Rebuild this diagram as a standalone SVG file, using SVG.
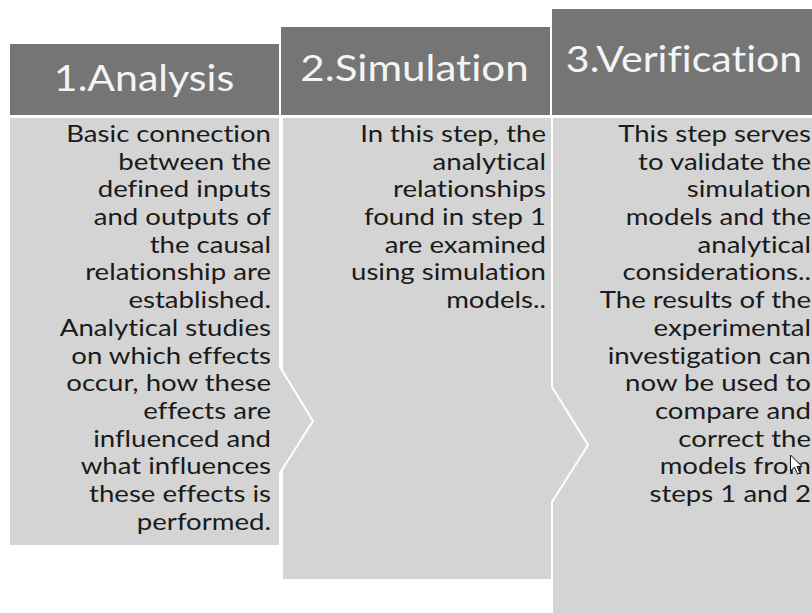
<svg xmlns="http://www.w3.org/2000/svg" width="812" height="613" viewBox="0 0 812 613">
  <style>
    .head { fill: #757575; }
    .panel { fill: #d4d4d4; stroke: #ffffff; stroke-width: 2; stroke-linejoin: miter; }
    text { font-family: Lato, "Open Sans", sans-serif; font-variant-ligatures: none; font-feature-settings: "liga" 0, "dlig" 0, "clig" 0; }
    .title { font-size: 36px; fill: #f4f4f4; text-anchor: middle; }
    .body { font-size: 23px; fill: #1a1a1a; text-anchor: end; }
  </style>
  <rect width="812" height="613" fill="#ffffff"/>

  <!-- Step 3: verification (drawn first, sits under the step 2 chevron) -->
  <g id="step3">
    <rect class="head" x="552" y="9" width="270" height="106"/>
    <rect class="panel" x="552" y="117" width="270" height="500"/>
    <text class="title" transform="translate(684 72) scale(1.14 1)" x="0" y="0">3.Verification</text>
    <g transform="translate(811 0) scale(1.2 1)">
      <text class="body" x="0" y="142">This step serves</text>
      <text class="body" x="0" y="169.7">to validate the</text>
      <text class="body" x="0" y="197.4">simulation</text>
      <text class="body" x="0" y="225.1">models and the</text>
      <text class="body" x="0" y="252.8">analytical</text>
      <text class="body" x="0" y="280.5">considerations..</text>
      <text class="body" x="0" y="308.2">The results of the</text>
      <text class="body" x="0" y="335.9">experimental</text>
      <text class="body" x="0" y="363.6">investigation can</text>
      <text class="body" x="0" y="391.3">now be used to</text>
      <text class="body" x="0" y="419">compare and</text>
      <text class="body" x="0" y="446.7">correct the</text>
      <text class="body" x="0" y="474.4">models from</text>
      <text class="body" x="0" y="502.1">steps 1 and 2</text>
    </g>
  </g>

  <!-- Step 2: simulation -->
  <g id="step2">
    <rect class="head" x="281" y="27" width="269" height="88"/>
    <polygon class="panel" points="282,117 552,117 552,387 588,445 552,502 552,580 282,580"/>
    <text class="title" transform="translate(414.5 81) scale(1.17 1)" x="0" y="0">2.Simulation</text>
    <g transform="translate(546 0) scale(1.2 1)">
      <text class="body" x="0" y="142">In this step, the</text>
      <text class="body" x="0" y="169.7">analytical</text>
      <text class="body" x="0" y="197.4">relationships</text>
      <text class="body" x="0" y="225.1">found in step 1</text>
      <text class="body" x="0" y="252.8">are examined</text>
      <text class="body" x="0" y="280.5">using simulation</text>
      <text class="body" x="0" y="308.2">models..</text>
    </g>
  </g>

  <!-- Step 1: analysis -->
  <g id="step1">
    <rect class="head" x="10" y="44" width="269" height="71"/>
    <polygon class="panel" points="9,117 280,117 280,367 313,421 280,473 280,546 9,546"/>
    <text class="title" transform="translate(144 91) scale(1.14 1)" x="0" y="0">1.Analysis</text>
    <g transform="translate(271 0) scale(1.2 1)">
      <text class="body" x="0" y="142">Basic connection</text>
      <text class="body" x="0" y="169.7">between the</text>
      <text class="body" x="0" y="197.4">defined inputs</text>
      <text class="body" x="0" y="225.1">and outputs of</text>
      <text class="body" x="0" y="252.8">the causal</text>
      <text class="body" x="0" y="280.5">relationship are</text>
      <text class="body" x="0" y="308.2">established.</text>
      <text class="body" x="0" y="335.9">Analytical studies</text>
      <text class="body" x="0" y="363.6">on which effects</text>
      <text class="body" x="0" y="391.3">occur, how these</text>
      <text class="body" x="0" y="419">effects are</text>
      <text class="body" x="0" y="446.7">influenced and</text>
      <text class="body" x="0" y="474.4">what influences</text>
      <text class="body" x="0" y="502.1">these effects is</text>
      <text class="body" x="0" y="529.8">performed.</text>
    </g>
  </g>

  <!-- pointer arrow -->
  <g id="pointer">
    <polygon points="790.5,455 790.5,471 794.5,467 797.5,474 800,473 797,466.5 802,466.5" fill="#ffffff" stroke="#111111" stroke-width="1" stroke-linejoin="round"/>
  </g>
</svg>
